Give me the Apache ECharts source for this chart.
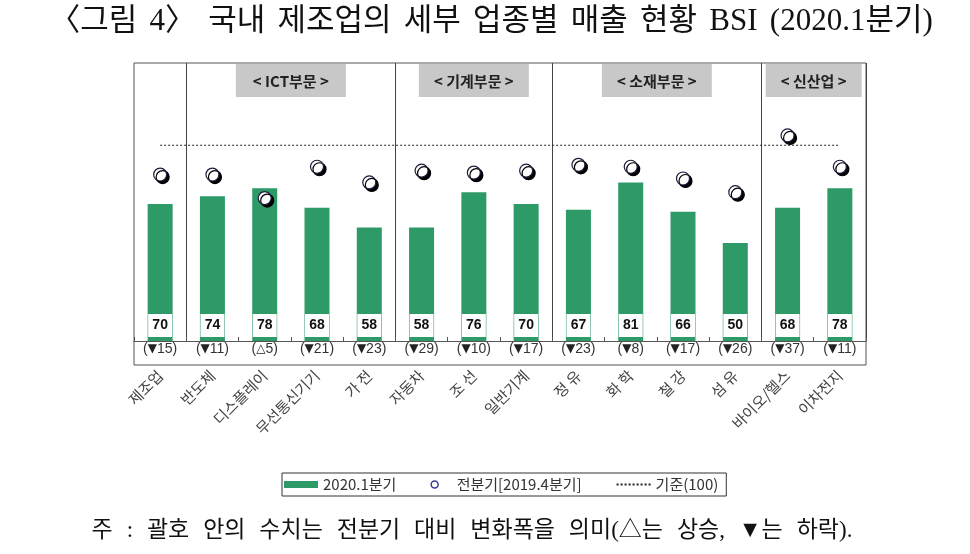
<!DOCTYPE html>
<html><head><meta charset="utf-8">
<script src="https://cdn.jsdelivr.net/npm/echarts@6/dist/echarts.min.js"></script>
<style>html,body{margin:0;padding:0;background:#fff}#c{width:970px;height:554px}</style>
</head><body><div id="c"></div>
<script>
const categories = ['제조업','반도체','디스플레이','무선통신기기','가 전','자동차','조 선','일반기계','정 유','화 학','철 강','섬 유','바이오/헬스','이차전지'];
const current = [70,74,78,68,58,58,76,70,67,81,66,50,68,78];
const previous = [85,85,73,89,81,87,86,87,90,89,83,76,105,89];
const change = [-15,-11,5,-21,-23,-29,-10,-17,-23,-8,-17,-26,-37,-11];
const baseline = [100,100,100,100,100,100,100,100,100,100,100,100,100,100];
const groupLabels = ['< ICT부문 >','< 기계부문 >','< 소재부문 >','< 신산업 >'];
const groupStart = [1,5,8,12];
const groupEnd = [4,7,11,13];
const seriesNames = ['2020.1분기','전분기[2019.4분기]','기준(100)'];
const titleText = '〈그림 4〉 국내 제조업의 세부 업종별 매출 현황 BSI (2020.1분기)';
const noteText = '주 : 괄호 안의 수치는 전분기 대비 변화폭을 의미(△는 상승, ▼는 하락).';

const GREEN = '#2e9a67';
const SANS = "'Noto Sans CJK KR', 'Liberation Sans', sans-serif";
const SERIF = "'Liberation Serif', 'Noto Sans CJK KR', serif";

function wideSpaces(s){ return s.split(' ').join('{s| }'); }

const chart = echarts.init(document.getElementById('c'), null, {renderer:'canvas'});
const option = {
  animation: false,
  backgroundColor: '#fff',
  grid: [
    {left:134, right:104, top:63, bottom:189, show:true, borderColor:'#555', borderWidth:1, backgroundColor:'transparent'},
    {left:134, right:104, top:63, bottom:213}
  ],
  xAxis: [
    {type:'category', gridIndex:0, data:categories, boundaryGap:true,
     axisLine:{show:false}, axisTick:{show:false}, splitLine:{show:false},
     axisLabel:{rotate:45, interval:0, margin:8, fontSize:15, color:'#444', fontFamily:SANS}},
    {type:'category', gridIndex:1, data:categories, boundaryGap:true, position:'bottom',
     axisLine:{show:true, lineStyle:{color:'#555', width:1}},
     axisTick:{show:true, inside:true, length:4, interval:0, lineStyle:{color:'#555'}},
     splitLine:{show:true, interval:function(i){ return groupStart.indexOf(i) >= 0; }, lineStyle:{color:'#444', width:1}},
     axisLabel:{interval:0, margin:1, fontSize:14, color:'#333', fontFamily:"'Liberation Sans', Arial, sans-serif",
       formatter:function(v, i){ const c = change[i]; return '(' + (c < 0 ? '{t|▼}' : '{t|△}') + Math.abs(c) + ')'; },
       rich:{t:{fontSize:12, color:'#222', fontFamily:"'DejaVu Sans', sans-serif", padding:[0,0,1,0]}}}}
  ],
  yAxis: [
    {type:'value', gridIndex:0, show:false, min:0, max:100},
    {type:'value', gridIndex:1, show:false, min:0, max:142}
  ],
  legend: {
    left:282, top:473, orient:'horizontal',
    padding:[4,8,4,2], itemGap:34, itemWidth:34, itemHeight:7,
    borderColor:'#333', borderWidth:1,
    textStyle:{fontSize:15, color:'#333', fontFamily:SANS},
    data:[
      {name:seriesNames[0], icon:'rect'},
      {name:seriesNames[1], icon:'circle', itemStyle:{color:'#fff', borderColor:'#3a3a9a', borderWidth:1.5, opacity:1, shadowColor:'transparent', shadowBlur:0, shadowOffsetX:0, shadowOffsetY:0}},
      {name:seriesNames[2]}
    ]
  },
  series: [
    {name:seriesNames[0], type:'bar', xAxisIndex:1, yAxisIndex:1, data:current, barWidth:25,
     itemStyle:{color:GREEN}, z:2,
     label:{show:true, position:'insideBottom', distance:4, backgroundColor:'#fff', width:18, padding:[4,3,4,3], lineHeight:15,
       align:'center', fontSize:14, fontWeight:'bold', color:'#111',
       fontFamily:"'Liberation Sans', Arial, sans-serif"}},
    {name:seriesNames[1], type:'scatter', xAxisIndex:1, yAxisIndex:1, data:previous, symbol:'circle', symbolSize:13, z:5,
     itemStyle:{color:'#fff', opacity:1, borderColor:'#1a1a3a', borderWidth:1.2, shadowColor:'#000', shadowBlur:0, shadowOffsetX:2.5, shadowOffsetY:2.5}},
    {name:seriesNames[2], type:'line', xAxisIndex:1, yAxisIndex:1, data:baseline, symbol:'none', z:3,
     itemStyle:{color:'transparent', borderColor:'transparent', borderWidth:0},
     lineStyle:{color:'#222', width:1.2, type:[2,2]}}
  ]
};
chart.setOption(option);

function buildGraphics(){
  const band = chart.convertToPixel({xAxisIndex:1}, categories[1]) - chart.convertToPixel({xAxisIndex:1}, categories[0]);
  const els = [];
  els.push({type:'text', x:491, y:22, style:{text:wideSpaces(titleText), font:'31px ' + SERIF, fill:'#111', textAlign:'center', textVerticalAlign:'middle',
    rich:{s:{fontSize:44, lineHeight:34}}}});
  els.push({type:'text', x:472, y:531, style:{text:wideSpaces(noteText), font:'23px ' + SERIF, fill:'#111', textAlign:'center', textVerticalAlign:'middle',
    rich:{s:{fontSize:50, lineHeight:26}}}});
  groupLabels.forEach(function(lbl, g){
    const x0 = chart.convertToPixel({xAxisIndex:1}, categories[groupStart[g]]) - band/2;
    const x1 = chart.convertToPixel({xAxisIndex:1}, categories[groupEnd[g]]) + band/2;
    const cx = (x0 + x1) / 2;
    const w = (groupEnd[g] - groupStart[g] >= 2) ? 110 : 96;
    els.push({type:'rect', shape:{x:cx - w/2, y:64, width:w, height:33}, style:{fill:'#c8c8c8'}, z:1});
    els.push({type:'text', x:cx, y:81, style:{text:lbl, font:'bold 15px ' + SANS, fill:'#222', textAlign:'center', textVerticalAlign:'middle'}, z:2});
  });
  chart.setOption({graphic: els});
}
buildGraphics();
</script>
</body></html>
